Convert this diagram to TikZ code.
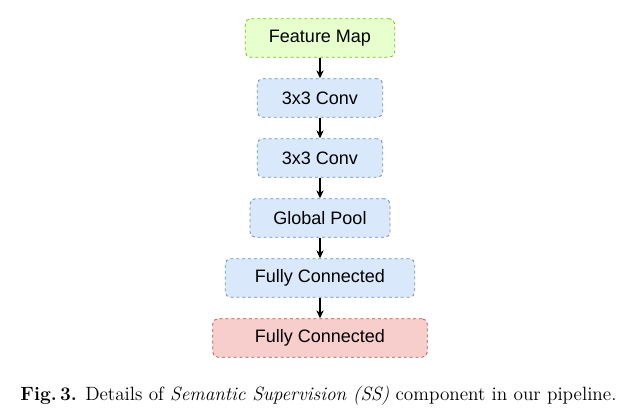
\documentclass[tikz,border=0pt]{standalone}
\usepackage{fontspec}
\newfontfamily\boxfont{Liberation Sans}
\usetikzlibrary{arrows.meta}
\usepackage{xcolor}
\definecolor{mapfill}{HTML}{E6FFCC}
\definecolor{mapdraw}{HTML}{66CC00}
\definecolor{convfill}{HTML}{DAE8FC}
\definecolor{convdraw}{HTML}{6C8EBF}
\definecolor{outfill}{HTML}{F8CECC}
\definecolor{outdraw}{HTML}{B85450}

\begin{document}
\begin{tikzpicture}[
            x = 0.75pt,
            y = 0.75pt,
            > = {Stealth[length=6pt,width=5.5pt]},
            node distance = 45pt,
            line width = 0.8pt
        ]

        \tikzstyle{block}=[
            rectangle,
            rounded corners = 4pt,
            dash pattern = on 2.2pt off 2.2pt,
            line width = 0.6pt,
            minimum height = 29pt,
            font = \boxfont\fontsize{13.5}{16}\selectfont
        ]
        \tikzstyle{mapbox}=[block, draw = mapdraw, fill = mapfill]
        \tikzstyle{convbox}=[block, draw = convdraw, fill = convfill]
        \tikzstyle{outbox}=[block, draw = outdraw, fill = outfill]

        \useasboundingbox (0, 0) rectangle (631, 416);

        \node[mapbox, minimum width = 112pt] (fm) at (320, 378) {Feature Map};
        \node[convbox, minimum width = 94pt] (c1) [below of=fm] {3x3 Conv};
        \node[convbox, minimum width = 94pt] (c2) [below of=c1] {3x3 Conv};
        \node[convbox, minimum width = 105pt] (gp) [below of=c2] {Global Pool};
        \node[convbox, minimum width = 142pt] (fc1) [below of=gp] {Fully Connected};
        \node[outbox, minimum width = 161pt] (fc2) [below of=fc1] {Fully Connected};

        \draw[->] (fm) -- (c1);
        \draw[->] (c1) -- (c2);
        \draw[->] (c2) -- (gp);
        \draw[->] (gp) -- (fc1);
        \draw[->] (fc1) -- (fc2);

        \node[font = \fontsize{14.4}{17}\selectfont] (cap) at (318.5, 20)
            {\textbf{Fig.\,3.} Details of \textit{Semantic Supervision (SS)} component in our pipeline.};
    \end{tikzpicture}
\end{document}
